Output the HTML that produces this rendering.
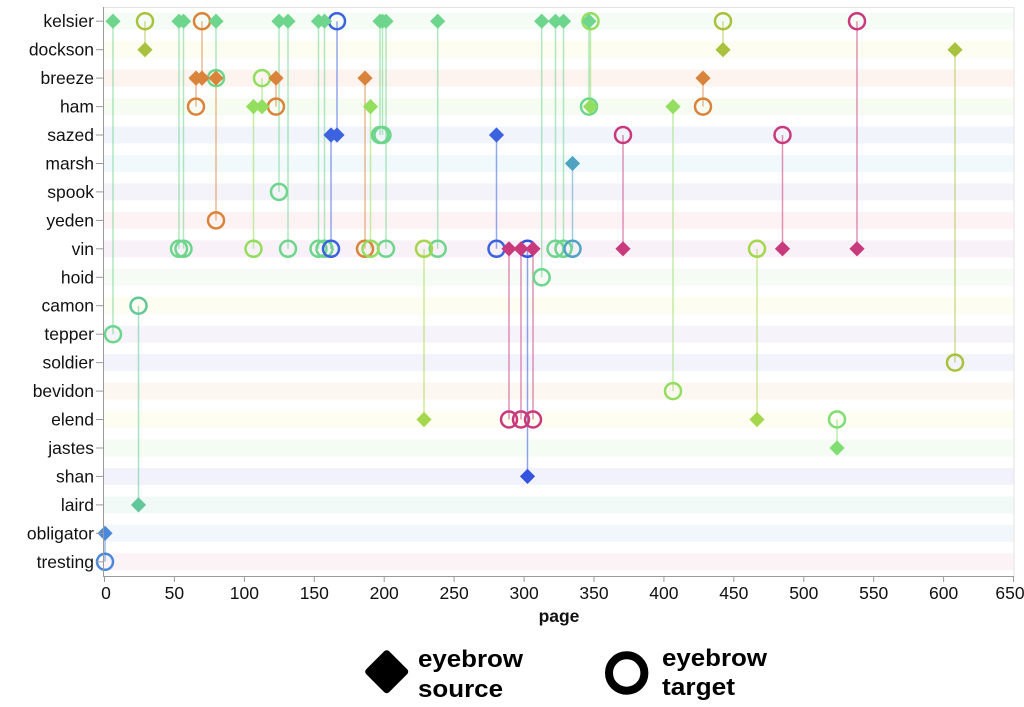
<!DOCTYPE html>
<html><head><meta charset="utf-8"><style>
html,body{margin:0;padding:0;background:#fff;}
svg{display:block;font-family:"Liberation Sans",Arial,sans-serif;}
</style></head><body>
<svg width="1024" height="707" viewBox="0 0 1024 707" xmlns="http://www.w3.org/2000/svg">
<defs><path id="d" d="M0-7.6L7.6 0 0 7.6-7.6 0z"/></defs>
<!-- bands -->
<g>
<rect x="104" y="12.7" width="910" height="17" fill="#f5fcf6"/>
<rect x="104" y="41.2" width="910" height="17" fill="#fdfdf1"/>
<rect x="104" y="69.6" width="910" height="17" fill="#fdf4f0"/>
<rect x="104" y="98.1" width="910" height="17" fill="#f7fcf3"/>
<rect x="104" y="126.5" width="910" height="17" fill="#f2f4fc"/>
<rect x="104" y="155" width="910" height="17" fill="#f1f9fc"/>
<rect x="104" y="183.4" width="910" height="17" fill="#f5f3fa"/>
<rect x="104" y="211.9" width="910" height="17" fill="#fdf3f5"/>
<rect x="104" y="240.3" width="910" height="17" fill="#f9f1f8"/>
<rect x="104" y="268.8" width="910" height="17" fill="#f6fcf5"/>
<rect x="104" y="297.2" width="910" height="17" fill="#fdfdf2"/>
<rect x="104" y="325.7" width="910" height="17" fill="#f7f3fa"/>
<rect x="104" y="354.1" width="910" height="17" fill="#f3f3fc"/>
<rect x="104" y="382.6" width="910" height="17" fill="#fdf7f2"/>
<rect x="104" y="411" width="910" height="17" fill="#fdfdf2"/>
<rect x="104" y="439.5" width="910" height="17" fill="#f5fcf3"/>
<rect x="104" y="467.9" width="910" height="17" fill="#f2f2fc"/>
<rect x="104" y="496.4" width="910" height="17" fill="#f2faf7"/>
<rect x="104" y="524.8" width="910" height="17" fill="#f1f7fb"/>
<rect x="104" y="553.3" width="910" height="17" fill="#fcf3f7"/>
</g>
<!-- frame -->
<rect x="103.5" y="7.5" width="910.5" height="569" fill="none" stroke="#e3e3e3" stroke-width="1"/>
<!-- lines -->
<g stroke-width="1.5" stroke-opacity="0.55" fill="none">
<g stroke="#6dd68c">
<line x1="113" y1="21.2" x2="113" y2="334.2"/>
<line x1="179" y1="21.2" x2="179" y2="248.8"/>
<line x1="183.5" y1="21.2" x2="183.5" y2="248.8"/>
<line x1="216" y1="21.2" x2="216" y2="78.1"/>
<line x1="279" y1="21.2" x2="279" y2="191.9"/>
<line x1="288" y1="21.2" x2="288" y2="248.8"/>
<line x1="318.5" y1="21.2" x2="318.5" y2="248.8"/>
<line x1="324.5" y1="21.2" x2="324.5" y2="248.8"/>
<line x1="380" y1="21.2" x2="380" y2="135"/>
<line x1="382.5" y1="21.2" x2="382.5" y2="135"/>
<line x1="386" y1="21.2" x2="386" y2="248.8"/>
<line x1="437.7" y1="21.2" x2="437.7" y2="248.8"/>
<line x1="541.7" y1="21.2" x2="541.7" y2="277.3"/>
<line x1="555.5" y1="21.2" x2="555.5" y2="248.8"/>
<line x1="563.5" y1="21.2" x2="563.5" y2="248.8"/>
<line x1="589" y1="21.2" x2="589" y2="106.6"/>
</g>
<g stroke="#a9c23e">
<line x1="145" y1="49.7" x2="145" y2="21.2"/>
<line x1="723" y1="49.7" x2="723" y2="21.2"/>
<line x1="955" y1="49.7" x2="955" y2="362.6"/>
</g>
<g stroke="#d9843a">
<line x1="196" y1="78.1" x2="196" y2="106.6"/>
<line x1="202" y1="78.1" x2="202" y2="21.2"/>
<line x1="216" y1="78.1" x2="216" y2="220.4"/>
<line x1="276" y1="78.1" x2="276" y2="106.6"/>
<line x1="365" y1="78.1" x2="365" y2="248.8"/>
<line x1="703" y1="78.1" x2="703" y2="106.6"/>
</g>
<g stroke="#93de5e">
<line x1="253.5" y1="106.6" x2="253.5" y2="248.8"/>
<line x1="262" y1="106.6" x2="262" y2="78.1"/>
<line x1="370.5" y1="106.6" x2="370.5" y2="248.8"/>
<line x1="590.5" y1="106.6" x2="590.5" y2="21.2"/>
<line x1="673" y1="106.6" x2="673" y2="391.1"/>
</g>
<g stroke="#3b63e0">
<line x1="331" y1="135" x2="331" y2="248.8"/>
<line x1="337" y1="135" x2="337" y2="21.2"/>
<line x1="496.5" y1="135" x2="496.5" y2="248.8"/>
</g>
<line stroke="#4ea3c2" x1="572.5" y1="163.5" x2="572.5" y2="248.8"/>
<g stroke="#c93a7c">
<line x1="509" y1="248.8" x2="509" y2="419.5"/>
<line x1="521" y1="248.8" x2="521" y2="419.5"/>
<line x1="533" y1="248.8" x2="533" y2="419.5"/>
<line x1="623" y1="248.8" x2="623" y2="135"/>
<line x1="782.5" y1="248.8" x2="782.5" y2="135"/>
<line x1="857" y1="248.8" x2="857" y2="21.2"/>
</g>
<g stroke="#a4d74c">
<line x1="424" y1="419.5" x2="424" y2="248.8"/>
<line x1="757" y1="419.5" x2="757" y2="248.8"/>
</g>
<line stroke="#80dd74" x1="837" y1="448" x2="837" y2="419.5"/>
<line stroke="#3454e0" x1="527.5" y1="476.4" x2="527.5" y2="248.8"/>
<line stroke="#62c89b" x1="138.5" y1="504.9" x2="138.5" y2="305.7"/>
<line stroke="#4a88dc" x1="105" y1="533.3" x2="105" y2="561.8"/>
</g>
<!-- circles (targets) -->
<g fill="none" stroke-width="2.5">
<g stroke="#6dd68c">
<circle cx="113" cy="334.2" r="8"/>
<circle cx="179" cy="248.8" r="8"/>
<circle cx="183.5" cy="248.8" r="8"/>
<circle cx="216" cy="78.1" r="8"/>
<circle cx="279" cy="191.9" r="8"/>
<circle cx="288" cy="248.8" r="8"/>
<circle cx="318.5" cy="248.8" r="8"/>
<circle cx="324.5" cy="248.8" r="8"/>
<circle cx="380" cy="135" r="8"/>
<circle cx="382.5" cy="135" r="8"/>
<circle cx="386" cy="248.8" r="8"/>
<circle cx="437.7" cy="248.8" r="8"/>
<circle cx="541.7" cy="277.3" r="8"/>
<circle cx="555.5" cy="248.8" r="8"/>
<circle cx="563.5" cy="248.8" r="8"/>
<circle cx="589" cy="106.6" r="8"/>
</g>
<g stroke="#a9c23e">
<circle cx="145" cy="21.2" r="8"/>
<circle cx="723" cy="21.2" r="8"/>
<circle cx="955" cy="362.6" r="8"/>
</g>
<g stroke="#d9843a">
<circle cx="196" cy="106.6" r="8"/>
<circle cx="202" cy="21.2" r="8"/>
<circle cx="216" cy="220.4" r="8"/>
<circle cx="276" cy="106.6" r="8"/>
<circle cx="365" cy="248.8" r="8"/>
<circle cx="703" cy="106.6" r="8"/>
</g>
<g stroke="#93de5e">
<circle cx="253.5" cy="248.8" r="8"/>
<circle cx="262" cy="78.1" r="8"/>
<circle cx="370.5" cy="248.8" r="8"/>
<circle cx="590.5" cy="21.2" r="8"/>
<circle cx="673" cy="391.1" r="8"/>
</g>
<g stroke="#3b63e0">
<circle cx="331" cy="248.8" r="8"/>
<circle cx="337" cy="21.2" r="8"/>
<circle cx="496.5" cy="248.8" r="8"/>
</g>
<circle stroke="#4ea3c2" cx="572.5" cy="248.8" r="8"/>
<g stroke="#c93a7c">
<circle cx="509" cy="419.5" r="8"/>
<circle cx="521" cy="419.5" r="8"/>
<circle cx="533" cy="419.5" r="8"/>
<circle cx="623" cy="135" r="8"/>
<circle cx="782.5" cy="135" r="8"/>
<circle cx="857" cy="21.2" r="8"/>
</g>
<g stroke="#a4d74c">
<circle cx="424" cy="248.8" r="8"/>
<circle cx="757" cy="248.8" r="8"/>
</g>
<circle stroke="#80dd74" cx="837" cy="419.5" r="8"/>
<circle stroke="#3454e0" cx="527.5" cy="248.8" r="8"/>
<circle stroke="#62c89b" cx="138.5" cy="305.7" r="8"/>
<circle stroke="#4a88dc" cx="105" cy="561.8" r="8"/>
</g>
<!-- diamonds (sources) -->
<g>
<g fill="#6dd68c">
<use href="#d" x="113" y="21.2"/>
<use href="#d" x="179" y="21.2"/>
<use href="#d" x="183.5" y="21.2"/>
<use href="#d" x="216" y="21.2"/>
<use href="#d" x="279" y="21.2"/>
<use href="#d" x="288" y="21.2"/>
<use href="#d" x="318.5" y="21.2"/>
<use href="#d" x="324.5" y="21.2"/>
<use href="#d" x="380" y="21.2"/>
<use href="#d" x="382.5" y="21.2"/>
<use href="#d" x="386" y="21.2"/>
<use href="#d" x="437.7" y="21.2"/>
<use href="#d" x="541.7" y="21.2"/>
<use href="#d" x="555.5" y="21.2"/>
<use href="#d" x="563.5" y="21.2"/>
<use href="#d" x="589" y="21.2"/>
</g>
<g fill="#a9c23e">
<use href="#d" x="145" y="49.7"/>
<use href="#d" x="723" y="49.7"/>
<use href="#d" x="955" y="49.7"/>
</g>
<g fill="#d9843a">
<use href="#d" x="196" y="78.1"/>
<use href="#d" x="202" y="78.1"/>
<use href="#d" x="216" y="78.1"/>
<use href="#d" x="276" y="78.1"/>
<use href="#d" x="365" y="78.1"/>
<use href="#d" x="703" y="78.1"/>
</g>
<g fill="#93de5e">
<use href="#d" x="253.5" y="106.6"/>
<use href="#d" x="262" y="106.6"/>
<use href="#d" x="370.5" y="106.6"/>
<use href="#d" x="590.5" y="106.6"/>
<use href="#d" x="673" y="106.6"/>
</g>
<g fill="#3b63e0">
<use href="#d" x="331" y="135"/>
<use href="#d" x="337" y="135"/>
<use href="#d" x="496.5" y="135"/>
</g>
<use href="#d" fill="#4ea3c2" x="572.5" y="163.5"/>
<g fill="#c93a7c">
<use href="#d" x="509" y="248.8"/>
<use href="#d" x="521" y="248.8"/>
<use href="#d" x="533" y="248.8"/>
<use href="#d" x="623" y="248.8"/>
<use href="#d" x="782.5" y="248.8"/>
<use href="#d" x="857" y="248.8"/>
</g>
<g fill="#a4d74c">
<use href="#d" x="424" y="419.5"/>
<use href="#d" x="757" y="419.5"/>
</g>
<use href="#d" fill="#80dd74" x="837" y="448"/>
<use href="#d" fill="#3454e0" x="527.5" y="476.4"/>
<use href="#d" fill="#62c89b" x="138.5" y="504.9"/>
<use href="#d" fill="#4a88dc" x="105" y="533.3"/>
</g>
<!-- axes -->
<g stroke="#9a9a9a" stroke-width="1">
<line x1="103.5" y1="7" x2="103.5" y2="576.5"/>
<line x1="103" y1="576.5" x2="1014" y2="576.5"/>
<line x1="96" y1="21.2" x2="103.5" y2="21.2"/>
<line x1="96" y1="49.7" x2="103.5" y2="49.7"/>
<line x1="96" y1="78.1" x2="103.5" y2="78.1"/>
<line x1="96" y1="106.6" x2="103.5" y2="106.6"/>
<line x1="96" y1="135" x2="103.5" y2="135"/>
<line x1="96" y1="163.5" x2="103.5" y2="163.5"/>
<line x1="96" y1="191.9" x2="103.5" y2="191.9"/>
<line x1="96" y1="220.4" x2="103.5" y2="220.4"/>
<line x1="96" y1="248.8" x2="103.5" y2="248.8"/>
<line x1="96" y1="277.3" x2="103.5" y2="277.3"/>
<line x1="96" y1="305.7" x2="103.5" y2="305.7"/>
<line x1="96" y1="334.2" x2="103.5" y2="334.2"/>
<line x1="96" y1="362.6" x2="103.5" y2="362.6"/>
<line x1="96" y1="391.1" x2="103.5" y2="391.1"/>
<line x1="96" y1="419.5" x2="103.5" y2="419.5"/>
<line x1="96" y1="448" x2="103.5" y2="448"/>
<line x1="96" y1="476.4" x2="103.5" y2="476.4"/>
<line x1="96" y1="504.9" x2="103.5" y2="504.9"/>
<line x1="96" y1="533.3" x2="103.5" y2="533.3"/>
<line x1="96" y1="561.8" x2="103.5" y2="561.8"/>
<line x1="104.5" y1="576.5" x2="104.5" y2="582"/>
<line x1="174.4" y1="576.5" x2="174.4" y2="582"/>
<line x1="244.4" y1="576.5" x2="244.4" y2="582"/>
<line x1="314.3" y1="576.5" x2="314.3" y2="582"/>
<line x1="384.2" y1="576.5" x2="384.2" y2="582"/>
<line x1="454.1" y1="576.5" x2="454.1" y2="582"/>
<line x1="524.1" y1="576.5" x2="524.1" y2="582"/>
<line x1="594" y1="576.5" x2="594" y2="582"/>
<line x1="663.9" y1="576.5" x2="663.9" y2="582"/>
<line x1="733.8" y1="576.5" x2="733.8" y2="582"/>
<line x1="803.8" y1="576.5" x2="803.8" y2="582"/>
<line x1="873.7" y1="576.5" x2="873.7" y2="582"/>
<line x1="943.6" y1="576.5" x2="943.6" y2="582"/>
<line x1="1013.5" y1="576.5" x2="1013.5" y2="582"/>
</g>
<g font-size="17.5" fill="#111" text-anchor="end">
<text x="94" y="27.2">kelsier</text>
<text x="94" y="55.7">dockson</text>
<text x="94" y="84.1">breeze</text>
<text x="94" y="112.6">ham</text>
<text x="94" y="141">sazed</text>
<text x="94" y="169.5">marsh</text>
<text x="94" y="197.9">spook</text>
<text x="94" y="226.4">yeden</text>
<text x="94" y="254.8">vin</text>
<text x="94" y="283.3">hoid</text>
<text x="94" y="311.7">camon</text>
<text x="94" y="340.2">tepper</text>
<text x="94" y="368.6">soldier</text>
<text x="94" y="397.1">bevidon</text>
<text x="94" y="425.5">elend</text>
<text x="94" y="454">jastes</text>
<text x="94" y="482.4">shan</text>
<text x="94" y="510.9">laird</text>
<text x="94" y="539.3">obligator</text>
<text x="94" y="567.8">tresting</text>
</g>
<g font-size="17.5" fill="#111" text-anchor="middle">
<text x="106" y="599">0</text>
<text x="174.4" y="599">50</text>
<text x="244.4" y="599">100</text>
<text x="314.3" y="599">150</text>
<text x="384.2" y="599">200</text>
<text x="454.1" y="599">250</text>
<text x="524.1" y="599">300</text>
<text x="594" y="599">350</text>
<text x="663.9" y="599">400</text>
<text x="733.8" y="599">450</text>
<text x="803.8" y="599">500</text>
<text x="873.7" y="599">550</text>
<text x="943.6" y="599">600</text>
<text x="1010" y="599">650</text>
<text x="559" y="622" font-weight="bold">page</text>
</g>
<!-- legend -->
<polygon points="386.7,653.7 404.7,671.7 386.7,689.7 368.7,671.7" fill="#000" stroke="#000" stroke-width="7" stroke-linejoin="round"/>
<circle cx="626.7" cy="673" r="17.7" fill="none" stroke="#000" stroke-width="8"/>
<g font-size="24" font-weight="bold" fill="#000">
<text x="418" y="667" textLength="105" lengthAdjust="spacingAndGlyphs">eyebrow</text>
<text x="418" y="697" textLength="85" lengthAdjust="spacingAndGlyphs">source</text>
<text x="662" y="666" textLength="105" lengthAdjust="spacingAndGlyphs">eyebrow</text>
<text x="662" y="695" textLength="73" lengthAdjust="spacingAndGlyphs">target</text>
</g>
</svg>
</body></html>
